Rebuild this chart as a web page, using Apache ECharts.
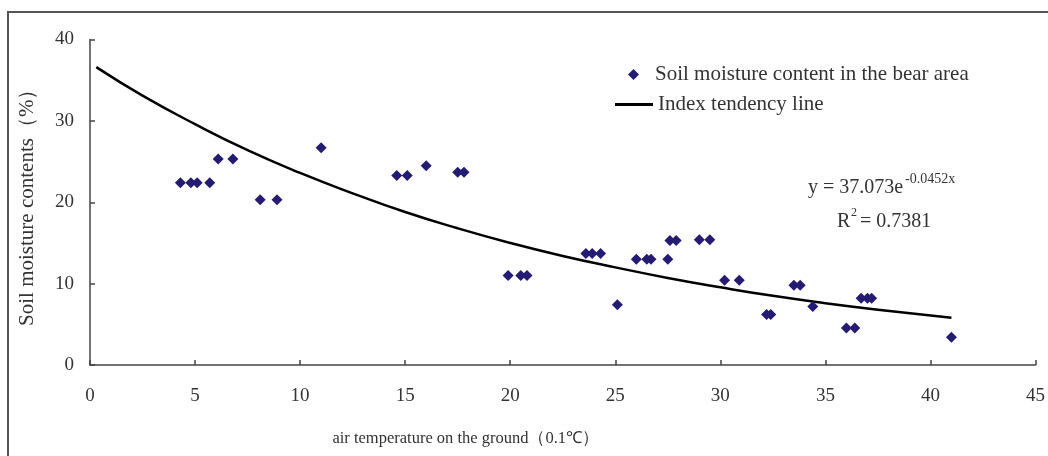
<!DOCTYPE html>
<html>
<head>
<meta charset="utf-8">
<script src="https://cdn.jsdelivr.net/npm/echarts@6/dist/echarts.min.js"></script>
<style>
html,body{margin:0;padding:0;background:#fff;}
#c{width:1048px;height:456px;}
</style>
</head>
<body>
<div id="c"></div>
<script>
// Observed data points (air temperature, soil moisture)
const tempX = [4.3, 4.8, 5.1, 5.7, 6.1, 6.8, 8.1, 8.9, 11.0, 14.6, 15.1, 16.0, 17.5, 17.8, 19.9, 20.5, 20.8, 23.6, 23.9, 24.3, 25.1, 26.0, 26.5, 26.7, 27.5, 27.6, 27.9, 29.0, 29.5, 30.2, 30.9, 32.2, 32.4, 33.5, 33.8, 34.4, 36.0, 36.4, 36.7, 37.0, 37.2, 41.0];
const moistY = [22.4, 22.4, 22.4, 22.4, 25.3, 25.3, 20.3, 20.3, 26.7, 23.3, 23.3, 24.5, 23.7, 23.7, 11.0, 11.0, 11.0, 13.7, 13.7, 13.7, 7.4, 13.0, 13.0, 13.0, 13.0, 15.3, 15.3, 15.4, 15.4, 10.4, 10.4, 6.2, 6.2, 9.8, 9.8, 7.2, 4.55, 4.55, 8.2, 8.2, 8.2, 3.4];
// Trend line points
const trendX = [0.3, 2.5, 5, 7.5, 10, 12.5, 15, 17.5, 20, 22.5, 25, 27.5, 30, 32.5, 35, 37.5, 41];
const trendY = [36.6, 33.1, 29.6, 26.4, 23.6, 21.1, 18.8, 16.8, 15.0, 13.4, 12.0, 10.7, 9.55, 8.5, 7.6, 6.8, 5.8];
const scatterName = 'Soil moisture content in the bear area';
const lineName = 'Index tendency line';
const xName = 'air temperature on the ground（0.1℃）';
const yName = 'Soil moisture contents（%）';

const FONT = 'Liberation Serif';
const TXT = '#333';
const scatterData = tempX.map((x, i) => [x, moistY[i]]);
const trendData = trendX.map((x, i) => [x, trendY[i]]);

const chart = echarts.init(document.getElementById('c'), null, {renderer: 'canvas'});
chart.setOption({
  backgroundColor: '#fff',
  animation: false,
  grid: {left: 90, right: 11, top: 39.5, bottom: 91, containLabel: false},
  legend: [
    {
      left: 623,
      top: 59,
      itemWidth: 11,
      itemHeight: 11,
      textStyle: {fontFamily: FONT, fontSize: 21, color: TXT, padding: [0, 0, 0, 11]},
      data: [{name: scatterName, icon: 'diamond'}]
    },
    {
      left: 610,
      top: 89,
      itemWidth: 38,
      itemHeight: 3,
      textStyle: {fontFamily: FONT, fontSize: 21, color: TXT, padding: [0, 0, 0, 0]},
      data: [{name: lineName, icon: 'rect', itemStyle: {color: '#000'}}]
    }
  ],
  xAxis: {
    type: 'value',
    min: 0, max: 45, interval: 5,
    splitLine: {show: false},
    axisLine: {lineStyle: {color: '#444', width: 1.5}},
    axisTick: {inside: true, length: 5, lineStyle: {color: '#444', width: 1.5}},
    axisLabel: {fontFamily: FONT, fontSize: 19, color: TXT, margin: 22},
    name: xName,
    nameLocation: 'middle',
    nameGap: 65,
    nameTextStyle: {fontFamily: FONT, fontSize: 16.5, color: TXT, padding: [0, 194, 0, 0]}
  },
  yAxis: {
    type: 'value',
    min: 0, max: 40, interval: 10,
    splitLine: {show: false},
    axisLine: {show: true, lineStyle: {color: '#444', width: 1.5}},
    axisTick: {show: true, inside: true, length: 5, lineStyle: {color: '#444', width: 1.5}},
    axisLabel: {fontFamily: FONT, fontSize: 19, color: TXT, margin: 16},
    name: yName,
    nameLocation: 'middle',
    nameGap: 52,
    nameTextStyle: {fontFamily: FONT, fontSize: 21, color: TXT}
  },
  series: [
    {
      name: scatterName,
      type: 'scatter',
      symbol: 'diamond',
      symbolSize: 11,
      itemStyle: {color: '#231c72', opacity: 1},
      data: scatterData,
      z: 3
    },
    {
      name: lineName,
      type: 'line',
      symbol: 'none',
      smooth: true,
      lineStyle: {color: '#000', width: 2.5},
      itemStyle: {color: '#000'},
      data: trendData,
      z: 2
    }
  ],
  graphic: [
    {type: 'rect', shape: {x: 8, y: 12, width: 1100, height: 500}, style: {fill: 'none', stroke: '#555', lineWidth: 2}, silent: true},
    {type: 'text', left: 808, top: 178, style: {text: 'y = 37.073e', fontFamily: FONT, fontSize: 20, fill: TXT}},
    {type: 'text', left: 905, top: 172, style: {text: '-0.0452x', fontFamily: FONT, fontSize: 14, fill: TXT}},
    {type: 'text', left: 837, top: 212, style: {text: 'R', fontFamily: FONT, fontSize: 20, fill: TXT}},
    {type: 'text', left: 851, top: 207, style: {text: '2', fontFamily: FONT, fontSize: 12, fill: TXT}},
    {type: 'text', left: 860, top: 212, style: {text: '= 0.7381', fontFamily: FONT, fontSize: 20, fill: TXT}}
  ]
});
</script>
</body>
</html>
